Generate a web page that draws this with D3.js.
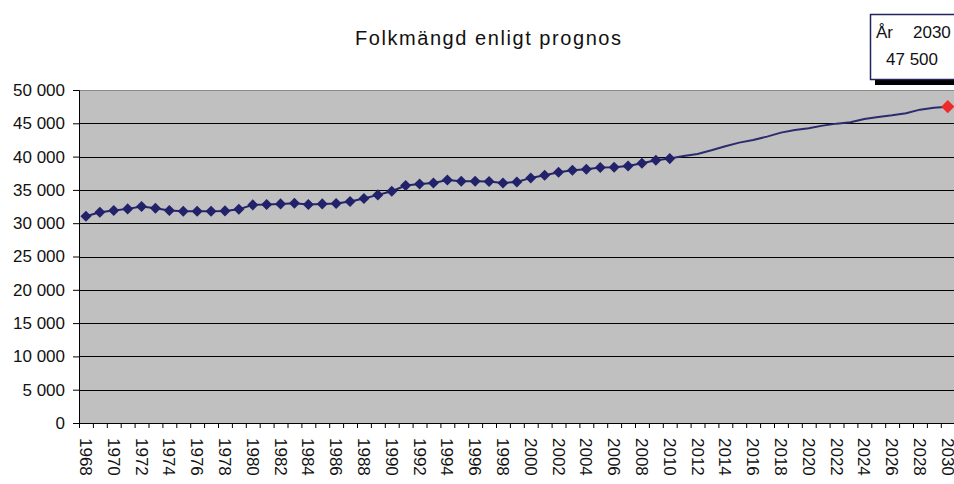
<!DOCTYPE html>
<meta charset="utf-8">
<head>
    <style>
        body{
            margin: 0;
            background-color: #ffffff;
            font-family: "Liberation Sans", Arial, sans-serif;
        }
        .axis text{
            font-size: 17px;
            fill: #111;
        }
        .grid line{
            stroke: #000;
            stroke-width: 1;
            shape-rendering: crispEdges;
        }
        .grid path{
            stroke-width: 0;
        }
    </style>
</head>
<body>
<div id="chart"></div>
<script src="https://d3js.org/d3.v7.min.js"></script>
<script>

    // historic population (diamonds)
    const histYears = d3.range(1968, 2011);
    const histValues = [31050, 31650, 31900, 32150, 32500, 32250, 31900, 31800, 31800, 31800,
        31850, 32100, 32750, 32800, 32900, 33000, 32800, 32900, 32950, 33250,
        33700, 34250, 34800, 35650, 35900, 36050, 36500, 36300, 36300, 36250,
        36050, 36200, 36800, 37200, 37650, 37950, 38100, 38350, 38400, 38600,
        39000, 39450, 39700];

    // forecast (line only), starts at the last historic year
    const progYears = d3.range(2010, 2031);
    const progValues = [39700, 40100, 40400, 40950, 41550, 42100, 42500, 43000, 43600, 44000,
        44250, 44650, 44950, 45150, 45650, 45950, 46200, 46500, 47050, 47350, 47500];

    const allYears = d3.range(1968, 2031);
    const labelYears = allYears.filter(d => d % 2 === 0);
    const yTicks = d3.range(0, 50001, 5000);

    const titleText = "Folkmängd enligt prognos";
    const tipYear = 2030, tipValue = 47500;

    const W = 954, H = 484;
    const margin = {top: 90, left: 79};
    const plotW = 63 * 13.9, plotH = 333;

    const svg = d3.select("#chart")
        .append("svg")
        .attr("width", W)
        .attr("height", H);

    const g = svg.append("g")
        .attr("transform", `translate(${margin.left},${margin.top})`);

    // plot background
    g.append("rect")
        .attr("width", plotW)
        .attr("height", plotH)
        .attr("fill", "#c0c0c0");
    g.append("line")
        .attr("x1", 0).attr("x2", plotW)
        .attr("y1", 0.5).attr("y2", 0.5)
        .attr("stroke", "#8a8a8a");

    const x = d3.scaleBand()
        .domain(allYears)
        .range([0, plotW])
        .padding(0);
    const xEdge = d3.scaleLinear()
        .domain([1967.5, 2030.5])
        .range([0, plotW]);
    const cx = d => x(d) + x.bandwidth() / 2;

    const y = d3.scaleLinear()
        .domain([0, 50000])
        .range([plotH, 0]);

    // gridlines
    g.append("g")
        .attr("class", "grid")
        .call(d3.axisLeft(y)
            .tickValues(yTicks.filter(d => d > 0 && d < 50000))
            .tickSize(-plotW)
            .tickFormat(""));

    // y axis
    g.append("g")
        .attr("class", "axis")
        .call(d3.axisLeft(y)
            .tickValues(yTicks)
            .tickSize(6)
            .tickPadding(8)
            .tickFormat(d => d3.format(",")(d).replace(",", " ")))
        .call(a => a.select(".domain").attr("stroke", "#000"));

    // x axis tick marks at category edges
    g.append("g")
        .attr("transform", `translate(0,${plotH})`)
        .call(d3.axisBottom(xEdge)
            .tickValues(d3.range(1967.5, 2031, 1))
            .tickSize(5)
            .tickFormat(""))
        .call(a => a.select(".domain").attr("stroke", "#000"));

    // x axis labels, every second year
    g.append("g")
        .attr("class", "axis")
        .attr("transform", `translate(0,${plotH})`)
        .call(d3.axisBottom(x)
            .tickValues(labelYears)
            .tickSize(0))
        .call(a => a.select(".domain").remove())
        .selectAll("text")
        .attr("transform", "rotate(90)")
        .attr("text-anchor", "start")
        .attr("x", 15)
        .attr("y", 0)
        .attr("dy", "0.35em");

    // forecast line
    g.append("path")
        .datum(progYears.map((d, i) => [d, progValues[i]]))
        .attr("fill", "none")
        .attr("stroke", "#2b2b6e")
        .attr("stroke-width", 2)
        .attr("d", d3.line()
            .x(d => cx(d[0]))
            .y(d => y(d[1])));

    // historic line
    const hist = histYears.map((d, i) => [d, histValues[i]]);
    g.append("path")
        .datum(hist)
        .attr("fill", "none")
        .attr("stroke", "#24246a")
        .attr("stroke-width", 2)
        .attr("d", d3.line()
            .x(d => cx(d[0]))
            .y(d => y(d[1])));

    const diamond = d3.symbol().type(d3.symbolDiamond2).size(78);
    g.append("g")
        .selectAll("path")
        .data(hist)
        .join("path")
        .attr("transform", d => `translate(${cx(d[0])},${y(d[1])})`)
        .attr("d", diamond)
        .attr("fill", "#22226a");

    // highlighted point
    g.append("path")
        .attr("transform", `translate(${cx(tipYear)},${y(tipValue)})`)
        .attr("d", d3.symbol().type(d3.symbolDiamond2).size(110))
        .attr("fill", "#ee2a2a");

    // title
    svg.append("text")
        .attr("x", 488)
        .attr("y", 45)
        .attr("text-anchor", "middle")
        .attr("textLength", 266)
        .attr("lengthAdjust", "spacing")
        .style("font-size", "20px")
        .style("fill", "#111")
        .text(titleText);

    // tooltip box
    const tip = svg.append("g").attr("transform", "translate(870,14)");
    tip.append("rect")
        .attr("x", 5).attr("y", 5)
        .attr("width", 100).attr("height", 66)
        .attr("fill", "#000");
    tip.append("rect")
        .attr("x", 0.5).attr("y", 0.5)
        .attr("width", 100).attr("height", 65)
        .attr("fill", "#fff")
        .attr("stroke", "#23235e")
        .attr("stroke-width", 1.5);
    tip.append("text")
        .attr("x", 6).attr("y", 24)
        .style("font-size", "17px")
        .style("fill", "#111")
        .text("År");
    tip.append("text")
        .attr("x", 43).attr("y", 24)
        .style("font-size", "17px")
        .style("fill", "#111")
        .text(tipYear);
    tip.append("text")
        .attr("x", 16).attr("y", 51)
        .style("font-size", "17px")
        .style("fill", "#111")
        .text(d3.format(",")(tipValue).replace(",", " "));

</script>
</body>
